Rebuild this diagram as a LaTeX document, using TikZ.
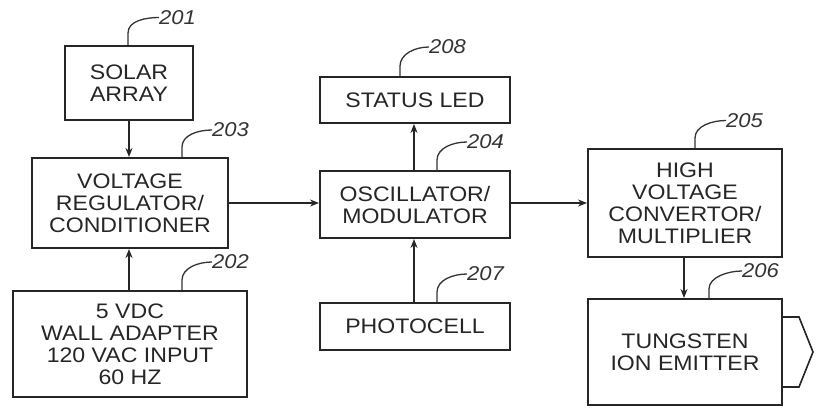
\documentclass[tikz,border=0pt]{standalone}
\usepackage{fontspec}
\setmainfont{Liberation Sans}
\newfontfamily\blkfont[FakeStretch=1.1]{Liberation Sans}
\usetikzlibrary{arrows.meta,calc}
\begin{document}
\begin{tikzpicture}[x=1pt,y=-1pt,
  blk/.style={draw=black!85,line width=2pt,rectangle,align=center,
    font=\blkfont\fontsize{21}{22}\selectfont,text=black!85,inner sep=0pt},
  conn/.style={draw=black!85,line width=1.6pt,-{Stealth[length=9pt,width=7pt]}},
  lead/.style={draw=black!80,line width=1.3pt},
  ref/.style={anchor=west,inner sep=0pt,font=\blkfont\fontsize{20}{20}\selectfont\itshape,text=black!80}]
\useasboundingbox (0,0) rectangle (822,409);
% boxes
\node[blk,minimum width=128pt,minimum height=74pt] (solar) at (129,83) {SOLAR\\ARRAY};
\node[blk,minimum width=196pt,minimum height=90pt] (vr) at (130,203) {VOLTAGE\\REGULATOR/\\CONDITIONER};
\node[blk,minimum width=234pt,minimum height=106pt] (wall) at (130,344) {5 VDC\\WALL ADAPTER\\120 VAC INPUT\\60 HZ};
\node[blk,minimum width=190pt,minimum height=46pt] (led) at (415,100) {STATUS LED};
\node[blk,minimum width=190pt,minimum height=67pt] (osc) at (415,204.5) {OSCILLATOR/\\MODULATOR};
\node[blk,minimum width=190pt,minimum height=47pt] (photo) at (415,326.5) {PHOTOCELL};
\node[blk,minimum width=194pt,minimum height=108pt] (hv) at (685,203) {HIGH\\VOLTAGE\\CONVERTOR/\\MULTIPLIER};
\node[blk,minimum width=194pt,minimum height=106pt] (tung) at (685,352) {TUNGSTEN\\ION EMITTER};
% emitter tip
\draw[draw=black!85,line width=1.6pt] ($(tung.east)+(0,-35)$) -- ++(16,0) -- ++(14,35) -- ++(-14,35) -- ++(-16,0);
% connectors
\draw[conn] (solar.south) -- (solar.south |- vr.north);
\draw[conn] (wall.north -| solar.south) -- (solar.south |- vr.south);
\draw[conn] (vr.east) -- (osc.west |- vr.east);
\draw[conn] ([xshift=-1pt]osc.north) -- ([xshift=-1pt]led.south);
\draw[conn] ([xshift=-1pt]photo.north) -- ([xshift=-1pt]osc.south);
\draw[conn] (osc.east |- vr.east) -- (hv.west);
\draw[conn] ([xshift=-1pt]hv.south) -- ([xshift=-1pt]tung.north);
% reference labels
\node[ref] (r201) at (159,17.5) {201};
\node[ref] (r203) at (212,130) {203};
\node[ref] (r202) at (212,262) {202};
\node[ref] (r208) at (429,47) {208};
\node[ref] (r204) at (467,142) {204};
\node[ref] (r207) at (467,274) {207};
\node[ref] (r205) at (726,120.5) {205};
\node[ref] (r206) at (742,271) {206};
% leaders
\draw[lead] (solar.north) ++(-1,0) -- ++(0,-12) .. controls +(0,-12) and (145,17.5) .. (r201.west);
\draw[lead] ($(vr.north)+(52,0)$) -- ++(0,-10) .. controls +(0,-12) and (198,130) .. (r203.west);
\draw[lead] ($(wall.north)+(52,0)$) -- ++(0,-10) .. controls +(0,-12) and (198,262) .. (r202.west);
\draw[lead] ($(led.north)+(-15,0)$) -- ++(0,-10) .. controls +(0,-12) and (415,47) .. (r208.west);
\draw[lead] ($(osc.north)+(22,0)$) -- ++(0,-10) .. controls +(0,-12) and (453,142) .. (r204.west);
\draw[lead] ($(photo.north)+(22,0)$) -- ++(0,-10) .. controls +(0,-12) and (453,274) .. (r207.west);
\draw[lead] ($(hv.north)+(10,0)$) -- ++(0,-10) .. controls +(0,-12) and (712,120.5) .. (r205.west);
\draw[lead] ($(tung.north)+(24,0)$) -- ++(0,-9) .. controls +(0,-12) and (728,271) .. (r206.west);
\end{tikzpicture}
\end{document}
